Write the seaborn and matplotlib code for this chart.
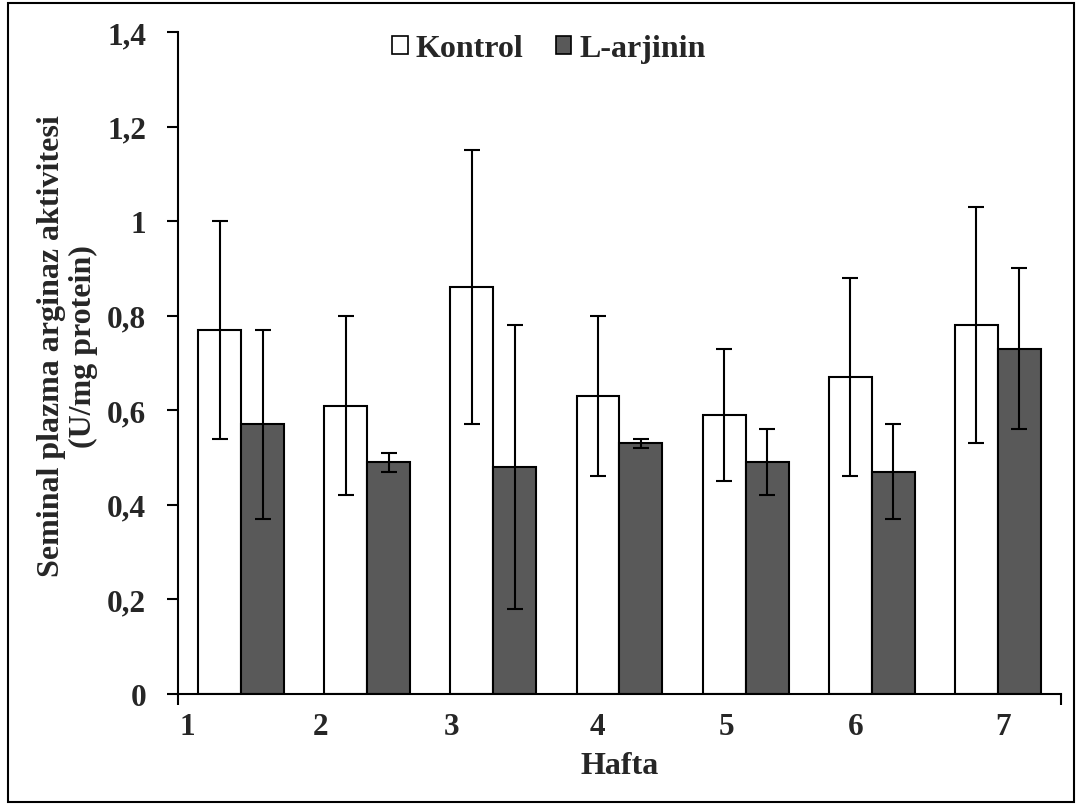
import matplotlib
matplotlib.use("Agg")
import matplotlib.pyplot as plt
import seaborn as sns
import pandas as pd
import numpy as np
from matplotlib.patches import Patch, Rectangle

weeks = ["1", "2", "3", "4", "5", "6", "7"]
kontrol = [0.77, 0.61, 0.86, 0.63, 0.59, 0.67, 0.78]
kontrol_err = [0.23, 0.19, 0.29, 0.17, 0.14, 0.21, 0.25]
larjinin = [0.57, 0.49, 0.48, 0.53, 0.49, 0.47, 0.73]
larjinin_err = [0.20, 0.02, 0.30, 0.01, 0.07, 0.10, 0.17]
groups = ["Kontrol", "L-arjinin"]
yticks = [0, 0.2, 0.4, 0.6, 0.8, 1.0, 1.2, 1.4]
ytick_labels = ["0", "0,2", "0,4", "0,6", "0,8", "1", "1,2", "1,4"]

df = pd.DataFrame({
    "Hafta": weeks * 2,
    "grup": [groups[0]] * len(weeks) + [groups[1]] * len(weeks),
    "deger": kontrol + larjinin,
})

sns.set_theme(style="white")
plt.rcParams["font.family"] = ["Liberation Serif", "DejaVu Serif"]
plt.rcParams["font.weight"] = "bold"

fig = plt.figure(figsize=(10.82, 8.12), dpi=100)
ax = fig.add_axes([0.1645, 0.1441, 0.9806 - 0.1645, 0.9594 - 0.1441])

colors = {"Kontrol": "white", "L-arjinin": "#595959"}
bw = 0.68
sns.barplot(data=df, x="Hafta", y="deger", hue="grup", order=weeks, hue_order=groups,
            palette=colors, edgecolor="black", linewidth=1.5, width=bw, gap=0,
            errorbar=None, ax=ax, legend=False)

x = np.arange(len(weeks))
for vals, errs, off in [(kontrol, kontrol_err, -bw / 4), (larjinin, larjinin_err, bw / 4)]:
    ax.errorbar(x + off, vals, yerr=errs, fmt="none", ecolor="black",
                elinewidth=1.5, capsize=6, capthick=1.5, zorder=5)

ax.set_xlim(-0.5, len(weeks) - 0.5)
ax.set_ylim(0, 1.4)
ax.set_yticks(yticks)
ax.set_yticklabels(ytick_labels, fontsize=22.5, fontweight="bold")
ax.tick_params(axis="y", direction="out", length=8, width=1.5, pad=15, left=True, color="black")

ax.set_xticks([-0.5, len(weeks) - 0.5])
ax.set_xticklabels(["", ""])
ax.tick_params(axis="x", which="major", direction="out", length=8, width=1.5, bottom=True, color="black")
label_pos = [-0.43, 0.634, 1.672, 2.822, 3.852, 4.875, 6.04]
ax.set_xticks(label_pos, minor=True)
ax.set_xticklabels(weeks, minor=True, fontsize=22.5, fontweight="bold")
ax.tick_params(axis="x", which="minor", length=0, pad=13)

ax.set_xlabel("Hafta", fontsize=23, fontweight="bold", labelpad=7)
ax.set_ylabel("Seminal plazma arginaz aktivitesi\n(U/mg protein)", fontsize=23,
              fontweight="bold", linespacing=1.1)
ax.yaxis.set_label_coords(-0.091, 0.527)

for s in ["top", "right"]:
    ax.spines[s].set_visible(False)
for s in ["left", "bottom"]:
    ax.spines[s].set_color("black")
    ax.spines[s].set_linewidth(1.5)

handles = [Patch(facecolor=colors[g], edgecolor="black", linewidth=1.2) for g in groups]
ax.legend(handles, groups, loc="center", bbox_to_anchor=(0.42, 0.975), ncol=2,
          frameon=False, prop={"family": "Liberation Serif", "weight": "bold", "size": 23},
          handlelength=0.5, handleheight=0.5, handletextpad=0.25, columnspacing=1.0,
          borderaxespad=0)

fig.patches.append(Rectangle((8 / 1082, 1 - 803 / 812), (1074 - 8) / 1082, (803 - 4) / 812,
                             transform=fig.transFigure, fill=False, edgecolor="black",
                             linewidth=1.5))

fig.savefig("out.png", dpi=100)
